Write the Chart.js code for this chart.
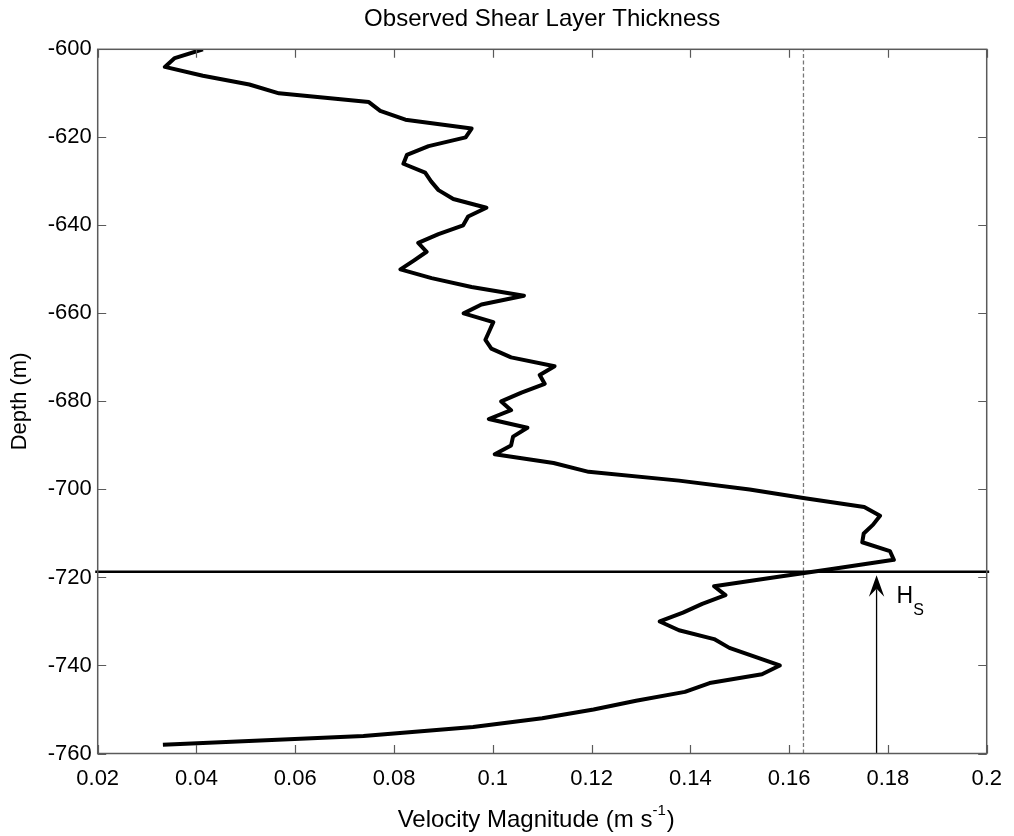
<!DOCTYPE html>
<html>
<head>
<meta charset="utf-8">
<script src="https://cdn.jsdelivr.net/npm/chart.js@4.4.1/dist/chart.umd.min.js"></script>
<style>
  html, body { margin: 0; padding: 0; background: #fff; }
  #wrap { width: 1014px; height: 836px; }
</style>
</head>
<body>
<div id="wrap"><canvas id="shear" width="1014" height="836"></canvas></div>
<script>
// velocity profile, one sample every 2 m
const depth = [
  -600, -602, -604, -606, -608, -610, -612, -614, -616, -618,
  -620, -622, -624, -626, -628, -630, -632, -634, -636, -638,
  -640, -642, -644, -646, -648, -650, -652, -654, -656, -658,
  -660, -662, -664, -666, -668, -670, -672, -674, -676, -678,
  -680, -682, -684, -686, -688, -690, -692, -694, -696, -698,
  -700, -702, -704, -706, -708, -710, -712, -714, -716, -718,
  -720, -722, -724, -726, -728, -730, -732, -734, -736, -738,
  -740, -742, -744, -746, -748, -750, -752, -754, -756, -758
];
const velocity = [
  0.0413, 0.0356, 0.0336, 0.0413, 0.0507, 0.0567, 0.0749, 0.0772, 0.0823, 0.0957,
  0.0945, 0.0870, 0.0826, 0.0819, 0.0863, 0.0875, 0.0890, 0.0920, 0.0987, 0.0950,
  0.0940, 0.0890, 0.0849, 0.0866, 0.0840, 0.0813, 0.0876, 0.0957, 0.1063, 0.0977,
  0.0941, 0.1001, 0.0993, 0.0985, 0.0997, 0.1037, 0.1125, 0.1095, 0.1105, 0.1058,
  0.1017, 0.1037, 0.0992, 0.1070, 0.1041, 0.1037, 0.1004, 0.1123, 0.1194, 0.1377,
  0.1520, 0.1632, 0.1752, 0.1784, 0.1770, 0.1751, 0.1748, 0.1804, 0.1812, 0.1690,
  0.1568, 0.1448, 0.1471, 0.1424, 0.1385, 0.1338, 0.1377, 0.1448, 0.1479, 0.1530,
  0.1581, 0.1545, 0.1439, 0.1389, 0.1290, 0.1204, 0.1100, 0.0960, 0.0738, 0.0332
];

const xTicks = [0.02, 0.04, 0.06, 0.08, 0.1, 0.12, 0.14, 0.16, 0.18, 0.2];
const yTicks = [-760, -740, -720, -700, -680, -660, -640, -620, -600];

const thresholdVel = 0.1629;   // dashed line
const shearDepth = -718.7;     // base of the shear layer
const arrowVel = 0.1777;       // H_S arrow position

const FONT = "'Liberation Sans', Arial, Helvetica, sans-serif";
const TICK = 8.5;

const axesBox = {
  id: 'axesBox',
  afterDatasetsDraw(chart) {
    const { ctx, chartArea: a, scales: { x, y } } = chart;
    ctx.save();
    ctx.strokeStyle = '#5a5a5a';
    ctx.lineWidth = 1.5;
    ctx.strokeRect(a.left, a.top, a.right - a.left, a.bottom - a.top);
    ctx.beginPath();
    xTicks.forEach(v => {
      const px = Math.round(x.getPixelForValue(v)) + 0.5;
      ctx.moveTo(px, a.bottom); ctx.lineTo(px, a.bottom - TICK);
      ctx.moveTo(px, a.top); ctx.lineTo(px, a.top + TICK);
    });
    yTicks.forEach(v => {
      const py = Math.round(y.getPixelForValue(v)) + 0.5;
      ctx.moveTo(a.left, py); ctx.lineTo(a.left + TICK, py);
      ctx.moveTo(a.right, py); ctx.lineTo(a.right - TICK, py);
    });
    ctx.lineWidth = 1.2;
    ctx.stroke();

    // arrow head for H_S
    const ax = x.getPixelForValue(arrowVel);
    const tip = y.getPixelForValue(shearDepth) + 3.5;
    ctx.fillStyle = '#000';
    ctx.beginPath();
    ctx.moveTo(ax, tip);
    ctx.lineTo(ax + 7.7, tip + 21.5);
    ctx.lineTo(ax, tip + 13.5);
    ctx.lineTo(ax - 7.7, tip + 21.5);
    ctx.closePath();
    ctx.fill();

    // H_S label
    ctx.textBaseline = 'alphabetic';
    ctx.textAlign = 'left';
    ctx.font = '23px ' + FONT;
    const hx = ax + 20, hy = tip + 28;
    ctx.fillText('H', hx, hy);
    const hw = ctx.measureText('H').width;
    ctx.font = '16px ' + FONT;
    ctx.fillText('S', hx + hw, hy + 12);

    // x axis title with superscript
    const main = 'Velocity Magnitude (m s';
    const sup = '-1';
    const tail = ')';
    ctx.font = '24px ' + FONT;
    const w1 = ctx.measureText(main).width;
    const w3 = ctx.measureText(tail).width;
    ctx.font = '15px ' + FONT;
    const w2 = ctx.measureText(sup).width;
    const total = w1 + w2 + w3 + 1;
    let tx = (a.left + a.right) / 2 - total / 2 - 6;
    const ty = 827;
    ctx.font = '24px ' + FONT;
    ctx.fillText(main, tx, ty);
    tx += w1;
    ctx.font = '15px ' + FONT;
    ctx.fillText(sup, tx, ty - 12);
    tx += w2 + 1;
    ctx.font = '24px ' + FONT;
    ctx.fillText(tail, tx, ty);
    ctx.restore();
  }
};

Chart.defaults.font.family = FONT;
Chart.defaults.color = '#000';

const profile = depth.map((d, i) => ({ x: velocity[i], y: d }));

new Chart(document.getElementById('shear'), {
  type: 'scatter',
  data: {
    datasets: [
      {
        data: profile,
        showLine: true,
        borderColor: '#000',
        borderWidth: 4,
        pointRadius: 0,
        tension: 0,
        borderJoinStyle: 'round'
      },
      {
        data: [{ x: 0.0195, y: shearDepth }, { x: 0.2005, y: shearDepth }],
        showLine: true,
        borderColor: '#000',
        borderWidth: 2.5,
        pointRadius: 0,
        clip: false
      },
      {
        data: [{ x: thresholdVel, y: -760 }, { x: thresholdVel, y: -600 }],
        showLine: true,
        borderColor: '#777',
        borderWidth: 1.3,
        borderDash: [4, 2.5],
        pointRadius: 0
      },
      {
        data: [{ x: arrowVel, y: -760 }, { x: arrowVel, y: shearDepth - 4 }],
        showLine: true,
        borderColor: '#000',
        borderWidth: 1.3,
        pointRadius: 0
      }
    ]
  },
  options: {
    responsive: false,
    animation: false,
    events: [],
    layout: { padding: { left: 0, top: 0, right: 23, bottom: 0 } },
    plugins: {
      legend: { display: false },
      tooltip: { enabled: false },
      title: {
        display: true,
        fullSize: false,
        text: 'Observed Shear Layer Thickness',
        color: '#000',
        font: { size: 24, weight: 'normal' },
        padding: { top: 4.6, bottom: 15.9 }
      }
    },
    scales: {
      x: {
        type: 'linear',
        min: 0.02,
        max: 0.2,
        afterBuildTicks: s => { s.ticks = xTicks.map(v => ({ value: v })); },
        afterFit: s => { s.height = 82.5; },
        grid: { display: false, drawTicks: false },
        border: { display: false },
        ticks: {
          padding: 12,
          maxRotation: 0,
          autoSkip: false,
          font: { size: 22 },
          callback: v => String(+v.toFixed(2))
        }
      },
      y: {
        type: 'linear',
        min: -760,
        max: -600,
        afterBuildTicks: s => { s.ticks = yTicks.map(v => ({ value: v })); },
        afterFit: s => { s.width = 97.7; },
        grid: { display: false, drawTicks: false },
        border: { display: false },
        title: {
          display: true,
          text: 'Depth (m)',
          font: { size: 22 },
          padding: { top: 7, bottom: 0 }
        },
        ticks: {
          padding: 6,
          autoSkip: false,
          font: { size: 22 }
        }
      }
    }
  },
  plugins: [axesBox]
});
</script>
</body>
</html>
